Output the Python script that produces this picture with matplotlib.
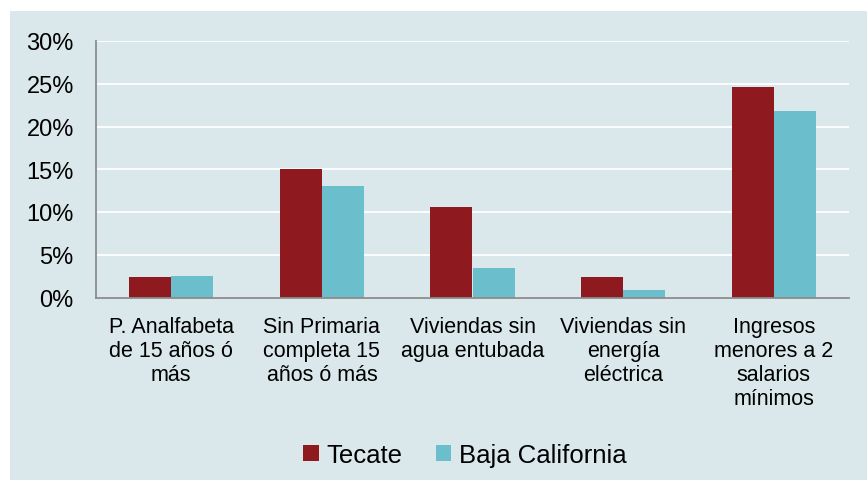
import matplotlib.pyplot as plt
import numpy as np
from matplotlib.patches import Rectangle

plt.rcParams["font.family"] = ["Liberation Sans", "DejaVu Sans"]

categories = [
    "P. Analfabeta\nde 15 años ó\nmás",
    "Sin Primaria\ncompleta 15\naños ó más",
    "Viviendas sin\nagua entubada",
    "Viviendas sin\nenergía\neléctrica",
    "Ingresos\nmenores a 2\nsalarios\nmínimos",
]
tecate = [2.4, 15.0, 10.6, 2.4, 24.6]
baja_california = [2.55, 13.0, 3.5, 0.9, 21.8]
yticks = [0, 5, 10, 15, 20, 25, 30]

bg = "#dae8eb"
red = "#8e1a1f"
cyan = "#6bbfcc"

W, H = 867, 481
fig = plt.figure(figsize=(W / 100, H / 100), dpi=100)
fig.patches.append(Rectangle((10 / W, 0), 1, 1 - 12 / H, transform=fig.transFigure,
                             facecolor=bg, edgecolor="none", zorder=-1))

ax = fig.add_axes([96 / W, 1 - 298.5 / H, (849 - 96) / W, (298.5 - 42) / H])
ax.set_facecolor(bg)

x = np.arange(len(categories))
w = 0.28
ax.bar(x - w / 2, tecate, w, color=red, label="Tecate", zorder=3)
ax.bar(x + w / 2, baja_california, w, color=cyan, label="Baja California", zorder=3)

ax.set_xlim(-0.5, len(categories) - 0.5)
ax.set_ylim(0, 30)
ax.set_yticks(yticks)
ax.set_yticklabels([f"{t}%" for t in yticks], fontsize=17)
ax.set_xticks(x)
ax.set_xticklabels(categories, fontsize=15.5, linespacing=1.2)
ax.tick_params(axis="both", length=0, colors="#000000")
ax.tick_params(axis="y", pad=16)
ax.tick_params(axis="x", pad=13)
ax.grid(axis="y", color="white", linewidth=1.3, zorder=1)

for s in ["top", "right"]:
    ax.spines[s].set_visible(False)
for s in ["left", "bottom"]:
    ax.spines[s].set_color("#8c8c8c")
    ax.spines[s].set_linewidth(1.3)
    ax.spines[s].set_zorder(4)

fig.legend(loc="center", bbox_to_anchor=(465 / W, 1 - 456 / H), ncol=2, frameon=False,
           fontsize=18.5, handlelength=0.6, handleheight=0.6, handletextpad=0.3, columnspacing=1.3)

fig.savefig("out.png", dpi=100, facecolor="white")
